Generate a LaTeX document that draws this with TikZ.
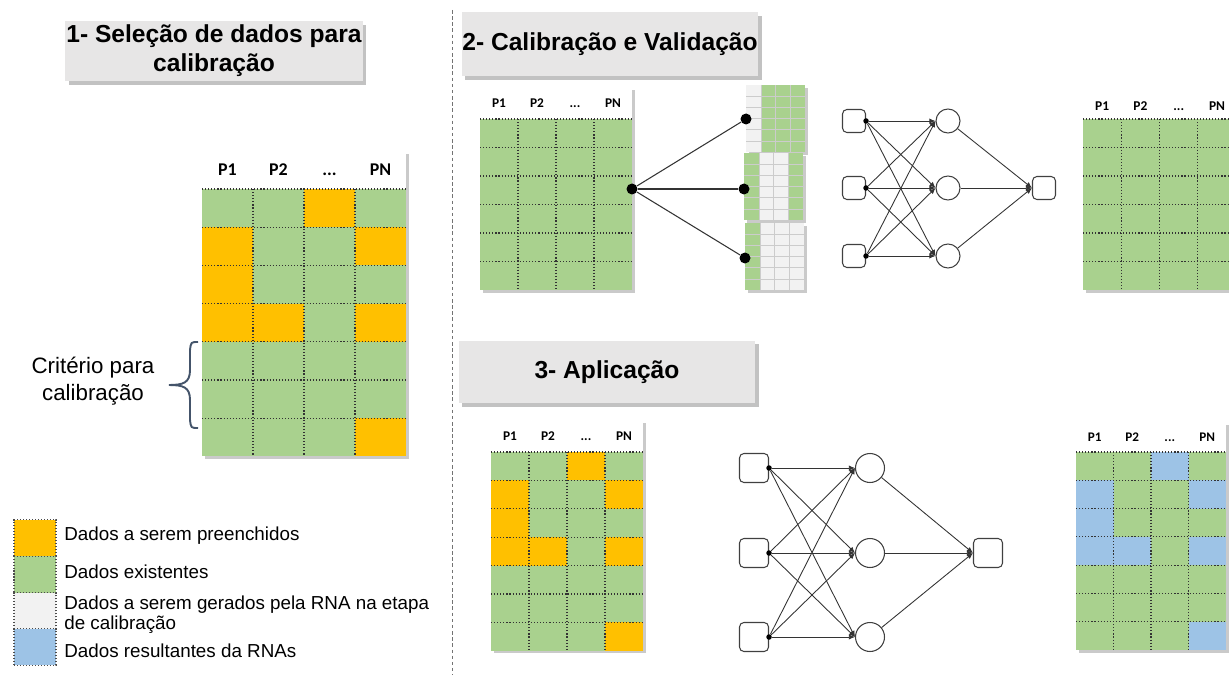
\documentclass[tikz,border=0pt]{standalone}
\usepackage{fontspec}
\setmainfont{Liberation Sans}
\newfontfamily\calfont{Carlito}
\usetikzlibrary{shadows,arrows.meta}

\definecolor{fillorange}{HTML}{FFC000}
\definecolor{datagreen}{HTML}{A9D18E}
\definecolor{gengray}{HTML}{F2F2F2}
\definecolor{resblue}{HTML}{9DC3E6}
\definecolor{titlegray}{HTML}{E7E6E6}
\definecolor{bracegray}{HTML}{44546A}

\tikzstyle{titlebox}=[rectangle, fill=titlegray, inner sep=0pt, align=center, font=\fontsize{14}{16.5}\selectfont\bfseries, drop shadow={shadow xshift=2pt, shadow yshift=-2pt, fill=black!60, opacity=0.4}]
\tikzstyle{tshadow}=[drop shadow={shadow xshift=1.5pt, shadow yshift=-1.5pt, fill=black!60, opacity=0.35}]
\tikzstyle{gridline}=[black!80, line width=0.65pt, dash pattern=on 0.65pt off 1.1pt]
\tikzstyle{minigrid}=[black!20, line width=0.3pt]
\tikzstyle{headlabel}=[inner sep=0pt, anchor=base]
\tikzstyle{inbox}=[rectangle, rounded corners=2.5pt, draw=black!75, line width=0.6pt, fill=white, inner sep=0pt]
\tikzstyle{hidnode}=[circle, draw=black!75, line width=0.6pt, fill=white, inner sep=0pt]
\tikzstyle{smalldot}=[circle, fill=black, inner sep=0pt, minimum size=0.11cm]
\tikzstyle{bigdot}=[circle, fill=black, inner sep=0pt, minimum size=0.22cm]
\tikzstyle{synapse}=[black!80, line width=0.5pt, -{Latex[length=3.5pt,width=3pt]}]
\tikzstyle{splitline}=[black!80, line width=0.6pt]
\tikzstyle{legendbox}=[rectangle, draw=black!70, line width=0.6pt, dash pattern=on 0.6pt off 1.1pt, minimum width=0.84cm, minimum height=0.726cm, inner sep=0pt]
\tikzstyle{legendtext}=[anchor=base west, inner sep=0pt, align=left, font=\fontsize{10.7}{11.2}\selectfont]
\tikzstyle{annot}=[align=center, inner sep=0pt, font=\fontsize{12.7}{15.4}\selectfont]
\tikzstyle{sepline}=[black!55, line width=0.5pt, dash pattern=on 2pt off 1.5pt]

% name, left, grid top, column width, row height, rows, header height, colour, cells
\newcommand{\datatable}[9]
{
  \pgfmathsetmacro{\tright}{#2+4*#4}
  \pgfmathsetmacro{\tbottom}{#3+#6*#5}
  \pgfmathsetmacro{\tabfs}{0.2*#4}
  \pgfmathsetmacro{\tbase}{#3-0.5*#7+0.113*#4}
  \pgfmathtruncatemacro{\lastrow}{#6-1}
  \fill[white, tshadow] (#2,{#3-#7}) rectangle (\tright,\tbottom);
  \fill[datagreen] (#2,#3) rectangle (\tright,\tbottom);
  \foreach \r/\c in {#9}
    \fill[#8] ({#2+(\c-1)*#4},{#3+(\r-1)*#5}) rectangle ({#2+\c*#4},{#3+\r*#5});
  \foreach \c in {1,2,3}
    \draw[gridline] ({#2+\c*#4},#3) -- ({#2+\c*#4},\tbottom);
  \foreach \r in {0,...,\lastrow}
    \draw[gridline] (#2,{#3+\r*#5}) -- (\tright,{#3+\r*#5});
  \node[headlabel, font=\calfont\bfseries\fontsize{\tabfs}{\tabfs}\selectfont] (#1-p1) at ({#2+0.5*#4},\tbase) {P1};
  \node[headlabel, font=\calfont\bfseries\fontsize{\tabfs}{\tabfs}\selectfont] (#1-p2) at ({#2+1.5*#4},\tbase) {P2};
  \node[headlabel, font=\calfont\bfseries\fontsize{\tabfs}{\tabfs}\selectfont] (#1-p3) at ({#2+2.5*#4},\tbase) {...};
  \node[headlabel, font=\calfont\bfseries\fontsize{\tabfs}{\tabfs}\selectfont] (#1-p4) at ({#2+3.5*#4},\tbase) {PN};
}

% left, top, column colours
\newcommand{\minitable}[3]
{
  \fill[white, tshadow] (#1,#2) rectangle ({#1+59},{#2+67});
  \foreach \col [count=\i from 0] in {#3}
    \fill[\col] ({#1+\i*14.75},#2) rectangle ({#1+(\i+1)*14.75},{#2+67});
  \foreach \i in {1,2,3}
    \draw[minigrid] ({#1+\i*14.75},#2) -- ++(0,67);
  \foreach \j in {1,...,5}
    \draw[minigrid] (#1,{#2+\j*11.17}) -- ++(59,0);
}

\begin{document}
\begin{tikzpicture}[x=0.02cm, y=-0.02cm]
	\useasboundingbox (0,0) rectangle (1229,675);

	\coordinate (septop) at (452,10);
	\coordinate (sepbot) at (452,675);
	\draw[sepline] (septop) -- (sepbot);

	% titles
	\node[titlebox, minimum width=5.96cm, minimum height=1.2cm] (title1) at (214,51) {1- Seleção de dados para\\calibração};
	\node[titlebox, minimum width=5.94cm, minimum height=1.28cm] (title2) at (610,44) {2- Calibração e Validação};
	\node[titlebox, minimum width=5.94cm, minimum height=1.26cm] (title3) at (607,372) {3- Aplicação};

	% tables
	\datatable{tsel}{202}{189}{51}{38.2}{7}{38}{fillorange}{1/3,2/1,2/4,3/1,4/1,4/2,4/4,7/4}
	\datatable{tcal}{480}{119}{38}{28.5}{6}{32}{datagreen}{1/1}
	\datatable{tval}{1083}{119}{38.3}{28.5}{6}{26}{datagreen}{1/1}
	\datatable{tapp}{491}{452}{38}{28.4}{7}{32}{fillorange}{1/3,2/1,2/4,3/1,4/1,4/2,4/4,7/4}
	\datatable{tres}{1076}{452}{37.5}{28.3}{7}{30}{resblue}{1/3,2/1,2/4,3/1,4/1,4/2,4/4,7/4}

	\draw[bracegray, line width=1.1pt] (198,342) .. controls (191,342) .. (190,350) -- (190,370)
		.. controls (190,383) and (183,385) .. (169,385) .. controls (183,385) and (190,387) .. (190,400)
		-- (190,420) .. controls (191,428) .. (198,428);
	\node[annot] (crit) at (93,381) {Critério para\\calibração};

	% calibration subsets
	\minitable{746}{85}{gengray,datagreen,datagreen,datagreen}
	\minitable{744}{153}{datagreen,gengray,gengray,datagreen}
	\minitable{745}{223}{datagreen,gengray,gengray,gengray}
	\node[bigdot] (split) at (632,189) {};
	\node[bigdot] (part1) at (746,119) {};
	\node[bigdot] (part2) at (744,189) {};
	\node[bigdot] (part3) at (745,258) {};
	\foreach \k in {1,2,3}
		\draw[splitline] (split) -- (part\k);

	% network of step 2
	\foreach \i/\y in {1/121,2/188,3/256} {
		\node[inbox, minimum size=0.46cm] (na\i) at (854,\y) {};
		\node[smalldot] (nad\i) at (na\i.east) {};
		\node[hidnode, minimum size=0.48cm] (nh\i) at (948,\y) {};
	}
	\node[inbox, minimum size=0.46cm] (nout) at (1044,188) {};
	\foreach \i in {1,2,3}
		\foreach \j in {1,2,3}
			\draw[synapse] (nad\i) -- (nh\j.west);
	\foreach \j in {1,2,3}
		\draw[synapse] (nh\j) -- (nout.west);

	% network of step 3
	\foreach \i/\y in {1/468,2/553,3/637} {
		\node[inbox, minimum size=0.58cm] (ma\i) at (754,\y) {};
		\node[smalldot] (mad\i) at (ma\i.east) {};
		\node[hidnode, minimum size=0.58cm] (mh\i) at (870,\y) {};
	}
	\node[inbox, minimum size=0.58cm] (mout) at (988,553) {};
	\foreach \i in {1,2,3}
		\foreach \j in {1,2,3}
			\draw[synapse] (mad\i) -- (mh\j.west);
	\foreach \j in {1,2,3}
		\draw[synapse] (mh\j) -- (mout.west);

	% legend
	\foreach \col/\y [count=\i] in {fillorange/538,datagreen/574.5,gengray/611,resblue/647}
		\node[legendbox, fill=\col] (key\i) at (35,\y) {};
	\node[legendtext] (key1txt) at (64,540) {Dados a serem preenchidos};
	\node[legendtext] (key2txt) at (64,578) {Dados existentes};
	\node[legendtext] (key3txt) at (64,629.5) {Dados a serem gerados pela RNA na etapa\\de calibração};
	\node[legendtext] (key4txt) at (64,657) {Dados resultantes da RNAs};

\end{tikzpicture}
\end{document}
